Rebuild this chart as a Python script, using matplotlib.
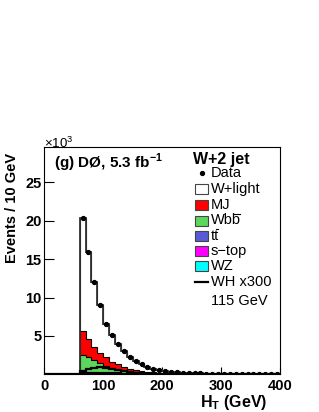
import numpy as np
import matplotlib
matplotlib.use('Agg')
import matplotlib.pyplot as plt
from matplotlib.patches import Rectangle
from matplotlib.lines import Line2D

plt.rcParams['font.family'] = ['Liberation Sans', 'DejaVu Sans']
plt.rcParams['mathtext.fontset'] = 'custom'
plt.rcParams['mathtext.rm'] = 'Liberation Sans'
plt.rcParams['mathtext.bf'] = 'Liberation Sans:bold'

# H_T bins of 10 GeV, 0-400; everything is zero below 60 GeV
edges = np.arange(0, 410, 10)
n_empty = 6

# events per bin for 60-400 GeV
data = [20400, 15900, 12000, 9000, 6600, 5150, 4000, 3000, 2300, 1750,
        1300, 950, 700, 500, 400, 320, 260, 210, 170, 140,
        120, 100, 85, 70, 60, 50, 45, 40, 35, 30, 27, 24, 21, 19]
wlight = [14800, 11330, 8425, 6180, 4395, 3485, 2720, 2047, 1570, 1198,
          884, 628, 456, 311, 255, 209, 173, 142, 117, 97,
          87, 72, 63, 53, 45, 38, 35, 32, 28, 24, 21, 19, 18, 16]
mj = [3100, 2270, 1700, 1400, 1100, 860, 680, 510, 400, 300,
      220, 170, 125, 95, 70, 52, 40, 30, 23, 18,
      14, 11, 9, 7, 6, 5, 4, 3, 3, 2, 2, 2, 1, 1]
wbb = [2220, 1970, 1530, 1080, 790, 520, 350, 230, 150, 100,
       68, 46, 32, 22, 16, 11, 8, 6, 4, 3,
       2, 2, 1, 1, 1, 1, 1, 0, 0, 0, 0, 0, 0, 0]
ttbar = [60, 80, 100, 115, 120, 120, 115, 105, 95, 85,
         75, 65, 55, 47, 40, 33, 27, 22, 18, 15,
         12, 10, 8, 6, 5, 4, 3, 3, 2, 2, 2, 1, 1, 1]
stop = [40, 50, 55, 55, 50, 45, 40, 33, 27, 22,
        18, 14, 11, 9, 7, 6, 5, 4, 3, 3,
        2, 2, 2, 1, 1, 1, 1, 1, 1, 1, 1, 1, 0, 0]
wz = [180, 200, 190, 170, 145, 120, 95, 75, 58, 45,
      35, 27, 21, 16, 12, 9, 7, 6, 5, 4,
      3, 3, 2, 2, 2, 1, 1, 1, 1, 1, 1, 1, 1, 1]
wh300 = [450, 650, 830, 900, 870, 740, 560, 430, 300, 200,
         140, 95, 65, 45, 30, 20, 14, 10, 7, 5,
         3, 2, 2, 1, 1, 1, 0, 0, 0, 0, 0, 0, 0, 0]

yticks = [5, 10, 15, 20, 25]
xticks = [0, 100, 200, 300, 400]


def pad(v):
    return np.concatenate([np.zeros(n_empty), np.asarray(v, float)]) / 1000.0


W, H = 319, 412
fig = plt.figure(figsize=(W / 100, H / 100), dpi=100)


def fx(px):
    return px / W


def fy(py):
    return (H - py) / H


ax = fig.add_axes([fx(44.3), fy(374.3), fx(280) - fx(44.3), fy(147.3) - fy(374.3)])

# stack, bottom to top
stack = [(wz, '#00ffff'), (stop, '#ff00ff'), (ttbar, '#5a5ad8'),
         (wbb, '#5cd65c'), (mj, '#ff0000'), (wlight, 'white')]
cum = np.cumsum([pad(v) for v, c in stack], axis=0)
for i in range(len(stack) - 1, -1, -1):
    ax.stairs(cum[i], edges, fill=True, facecolor=stack[i][1],
              edgecolor='black', lw=0.8, zorder=2)
ax.stairs(cum[-1], edges, color='#333333', lw=1.3, zorder=3)
ax.stairs(pad(wh300), edges, color='black', lw=1.6, zorder=4)

centers = 0.5 * (edges[:-1] + edges[1:])
ax.plot(centers[n_empty:], np.asarray(data) / 1000.0, 'o', color='black',
        ms=2.8, zorder=5)

ax.set_xlim(0, 400)
ax.set_ylim(0, 29.56)
ax.set_xticks(xticks)
ax.set_yticks(yticks)
ax.tick_params(direction='in', labelsize=10.5, width=0.8)
ax.tick_params(axis='y', length=7, pad=2)
ax.tick_params(axis='x', length=5, pad=3.5)
for lab in ax.get_xticklabels() + ax.get_yticklabels():
    lab.set_fontweight('bold')
for s in ax.spines.values():
    s.set_linewidth(0.8)

fig.text(fx(44), fy(143), r'$\times$10$^{3}$', fontsize=9.5, ha='left', va='center')
fig.text(fx(54), fy(162.5), r'(g) DØ, 5.3 fb$^{\mathbf{-1}}$', fontsize=11,
         fontweight='bold', ha='left', va='center')
fig.text(fx(12), fy(153), 'Events / 10 GeV', fontsize=10.5, fontweight='bold',
         rotation=90, ha='center', va='top')
fig.text(fx(267), fy(403), r'H$_{\mathbf{T}}$ (GeV)', fontsize=11.5,
         fontweight='bold', ha='right', va='center')

# legend
fig.text(fx(193), fy(159), 'W+2 jet', fontsize=11.5, fontweight='bold',
         ha='left', va='center')
fig.add_artist(Line2D([fx(201.5)], [fy(172.7)], marker='o', ms=2.8,
                      color='black', transform=fig.transFigure))
fig.text(fx(211), fy(172.7), 'Data', fontsize=10.5, ha='left', va='center')
# flag: draw an anti-particle bar over the final letter
entries = [('W+light', False, 'white', 188.7), ('MJ', False, '#ff0000', 204.8),
           ('Wbb', True, '#5cd65c', 220.5), ('tt', True, '#5a5ad8', 235.5),
           ('s\u2212top', False, '#ff00ff', 250.5), ('WZ', False, '#00ffff', 265.5)]
renderer = fig.canvas.get_renderer()
for name, barred, col, py in entries:
    fig.add_artist(Rectangle((fx(195), fy(py + 5)), fx(13.3), fy(0) - fy(10),
                             facecolor=col, edgecolor='#444444', lw=0.8,
                             transform=fig.transFigure))
    t = fig.text(fx(211), fy(py), name, fontsize=10.5, ha='left', va='center')
    if barred:
        full = t.get_window_extent(renderer)
        one = fig.text(fx(211), fy(py), name[-1], fontsize=10.5, ha='left',
                       va='center', alpha=0)
        ob = one.get_window_extent(renderer)
        xa = full.x1 - ob.width
        ybar = full.y1 - 0.5
        fig.add_artist(Line2D([(xa + 1.0) / W, (full.x1 - 0.8) / W],
                              [ybar / H, ybar / H], color='black', lw=0.8,
                              transform=fig.transFigure))
fig.add_artist(Line2D([fx(195), fx(208.3)], [fy(282.3), fy(282.3)], color='black',
                      lw=1.6, transform=fig.transFigure))
fig.text(fx(211), fy(282.3), 'WH x300', fontsize=10.5, ha='left', va='center')
fig.text(fx(211), fy(301), '115 GeV', fontsize=10.5, ha='left', va='center')

fig.savefig('out.png', dpi=100)
